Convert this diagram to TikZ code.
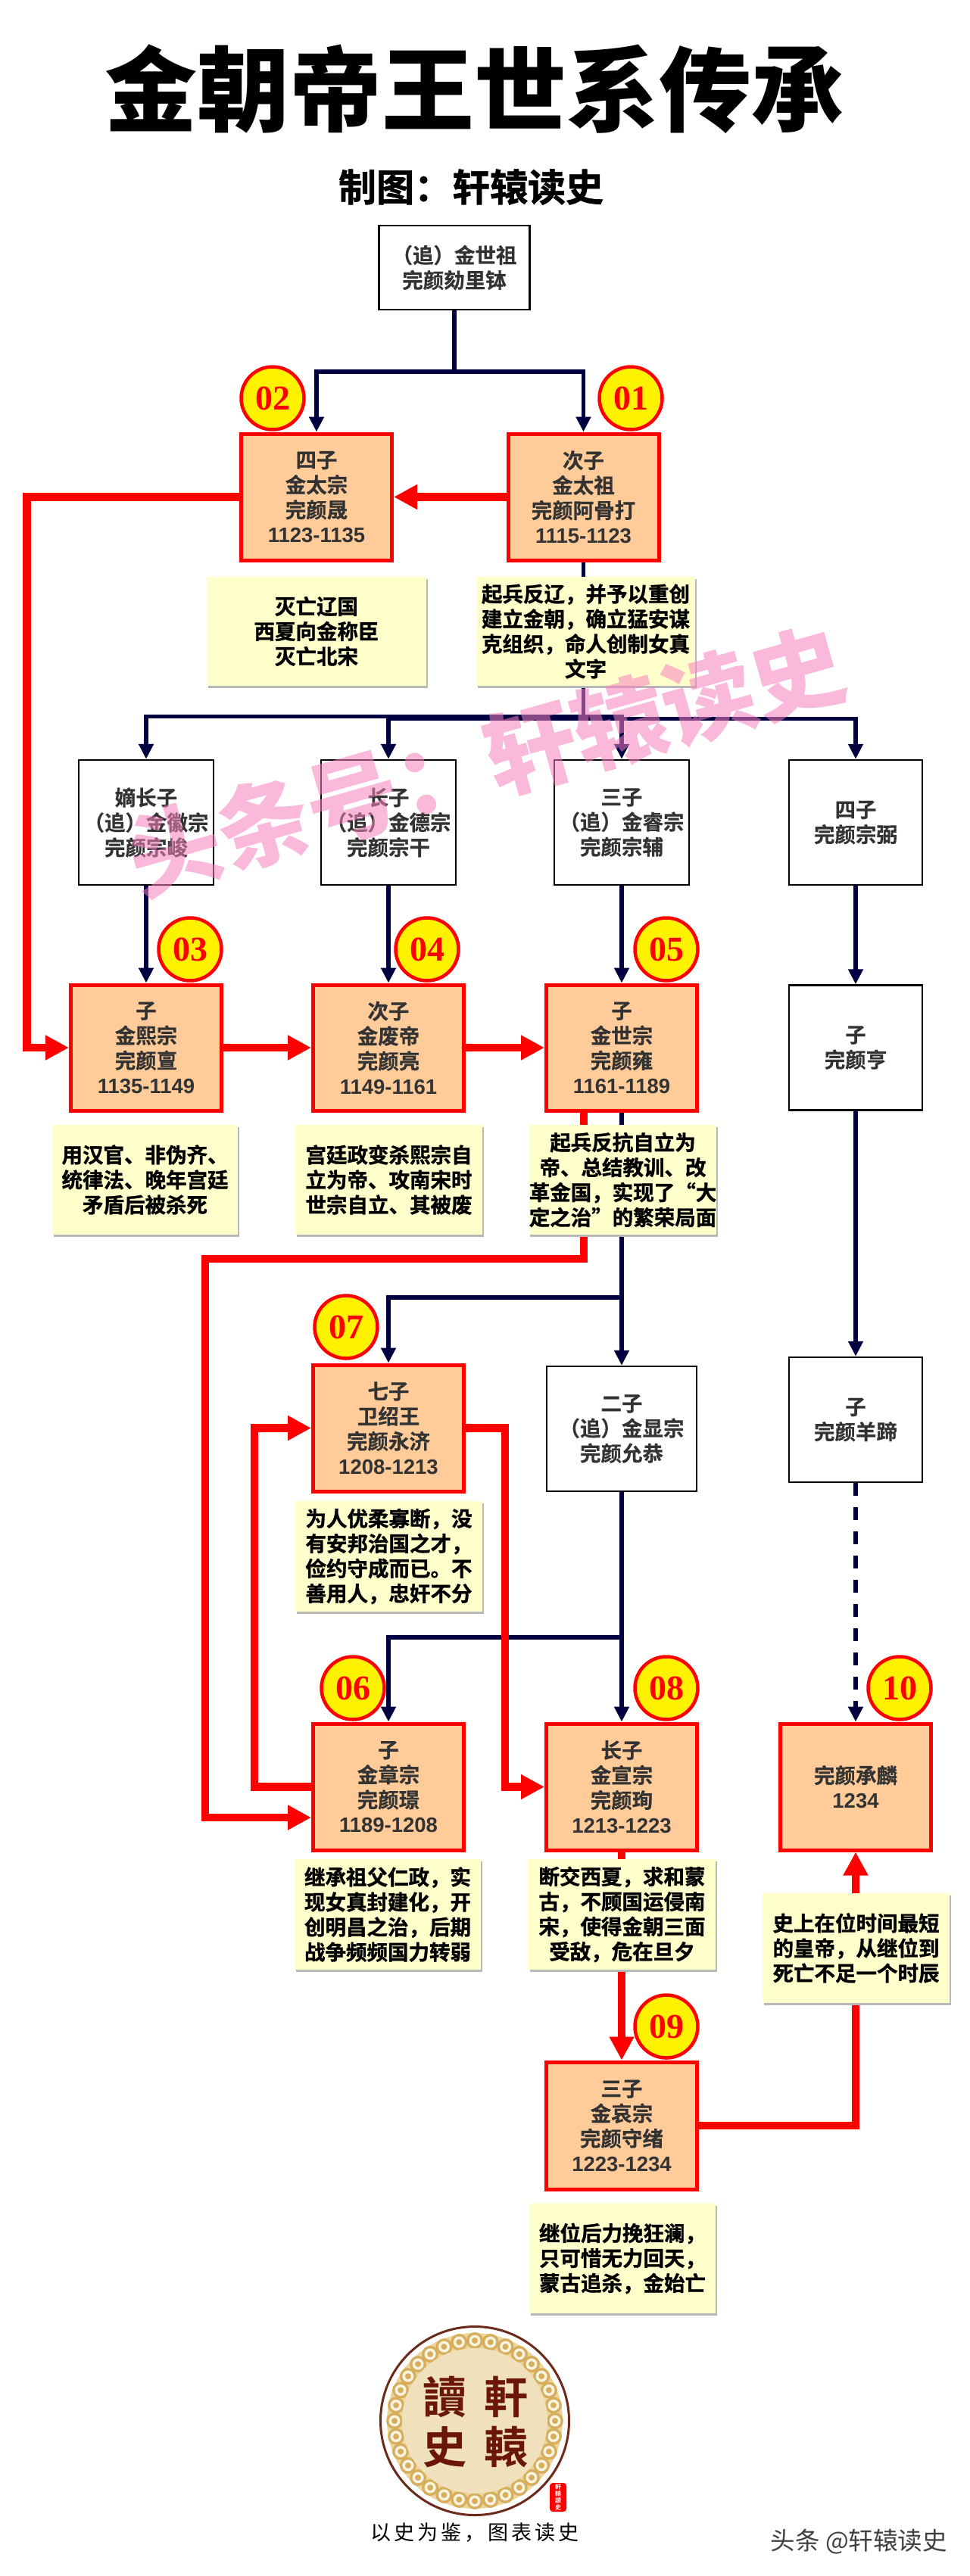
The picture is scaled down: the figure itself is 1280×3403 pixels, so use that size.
\documentclass[tikz,border=0pt]{standalone}
\usepackage{fontspec}
\usetikzlibrary{arrows.meta,shadows,calc}
\setmainfont{Noto Sans CJK SC}
\newfontfamily\cjkb[FakeBold=0.5]{Noto Sans CJK SC Bold}
\newfontfamily\cjkn[FakeBold=1.2]{Noto Sans CJK SC Bold}
\newfontfamily\cjkh{Noto Sans CJK SC Black}
\newfontfamily\cjkt{Noto Sans CJK TC Bold}
\newfontfamily\cjkr{Noto Sans CJK SC}
\newfontfamily\cjksp[LetterSpace=15]{Noto Sans CJK SC}
\newfontfamily\serifb{Liberation Serif Bold}
\newfontfamily\arialb{Liberation Sans Bold}
\definecolor{navyc}{HTML}{000040}
\definecolor{orangec}{HTML}{FFCC99}
\definecolor{notec}{HTML}{FFFFCC}
\definecolor{textc}{HTML}{333333}
\definecolor{wmk}{HTML}{F781BD}
\definecolor{ringbg}{HTML}{EBD6A0}
\definecolor{ringc}{HTML}{D6AE5C}
\definecolor{innerc}{HTML}{F1E0BC}
\definecolor{brownc}{HTML}{6B2A1A}
\definecolor{sealc}{HTML}{6A1608}
\pgfdeclarelayer{bg}
\pgfsetlayers{bg,main}
\newcommand{\yr}[1]{{\arialb #1}}
\tikzset{
  emp/.style={draw=red,line width=5pt,fill=orangec,inner sep=0pt,minimum width=199pt,
    align=center,text=textc,font=\cjkb\fontsize{27.5}{33}\selectfont},
  anc/.style={draw=black,line width=2.5pt,fill=white,inner sep=0pt,
    align=center,text=textc,font=\cjkb\fontsize{27.5}{33}\selectfont},
  notebox/.style={fill=notec,inner sep=0pt,align=center,text=black,
    font=\cjkn\fontsize{27.5}{33}\selectfont,
    general shadow={fill=black!28,shadow xshift=1.5pt,shadow yshift=-3pt}},
  badge/.style={circle,draw=red,line width=4.5pt,fill=yellow,inner sep=0pt,minimum size=83pt,
    text=red,font=\serifb\fontsize{46}{46}\selectfont},
  navyline/.style={draw=navyc,line width=5.5pt},
  navyarr/.style={navyline,-{Triangle[length=20pt,width=19pt]}},
  redline/.style={draw=red,line width=10.5pt},
  redarr/.style={redline,-{Triangle[length=31pt,width=31pt]}},
}
\begin{document}
\begin{tikzpicture}[x=1pt,y=-1pt]
\useasboundingbox (0,0) rectangle (1280,3403);
\begin{pgfonlayer}{bg}
\fill[white] (0,0) rectangle (1280,3403);
\end{pgfonlayer}

% titles
\node[text=black,inner sep=0pt,font=\cjkh\fontsize{122}{122}\selectfont] (title) at (626,118) {金朝帝王世系传承};
\node[text=black,inner sep=0pt,font=\cjkn\fontsize{50}{50}\selectfont] (subtitle) at (622,247) {制图：轩辕读史};

% ancestor boxes
\node[anc,minimum width=199pt,minimum height=111pt] (root) at (600,353.5) {（追）金世祖\\完颜劾里钵};
\node[anc,minimum width=178pt,minimum height=165pt] (w1) at (193,1086.5) {嫡长子\\（追）金徽宗\\完颜宗峻};
\node[anc,minimum width=178pt,minimum height=165pt] (w2) at (513,1086.5) {长子\\（追）金德宗\\完颜宗干};
\node[anc,minimum width=178pt,minimum height=165pt] (w3) at (821,1086.5) {三子\\（追）金睿宗\\完颜宗辅};
\node[anc,minimum width=176pt,minimum height=165pt] (w4) at (1130,1086.5) {四子\\完颜宗弼};
\node[anc,minimum width=176pt,minimum height=165pt] (w5) at (1130,1384) {子\\完颜亨};
\node[anc,minimum width=198pt,minimum height=165pt] (w6) at (821,1887.5) {二子\\（追）金显宗\\完颜允恭};
\node[anc,minimum width=176pt,minimum height=165pt] (w7) at (1130,1875.5) {子\\完颜羊蹄};

% emperor boxes
\node[emp,minimum height=167pt] (b01) at (770.5,656.5) {次子\\金太祖\\完颜阿骨打\\\yr{1115-1123}};
\node[emp,minimum height=167pt] (b02) at (418,656.5) {四子\\金太宗\\完颜晟\\\yr{1123-1135}};
\node[emp,minimum height=166pt] (b03) at (193,1384) {子\\金熙宗\\完颜亶\\\yr{1135-1149}};
\node[emp,minimum height=166pt] (b04) at (513,1384) {次子\\金废帝\\完颜亮\\\yr{1149-1161}};
\node[emp,minimum height=166pt] (b05) at (821,1384) {子\\金世宗\\完颜雍\\\yr{1161-1189}};
\node[emp,minimum height=167pt] (b07) at (513,1886.5) {七子\\卫绍王\\完颜永济\\\yr{1208-1213}};
\node[emp,minimum height=167pt] (b06) at (513,2360.5) {子\\金章宗\\完颜璟\\\yr{1189-1208}};
\node[emp,minimum height=167pt] (b08) at (821,2360.5) {长子\\金宣宗\\完颜珣\\\yr{1213-1223}};
\node[emp,minimum height=167pt] (b10) at (1130,2360.5) {完颜承麟\\\yr{1234}};
\node[emp,minimum height=168pt] (b09) at (821,2808) {三子\\金哀宗\\完颜守绪\\\yr{1223-1234}};

% badges
\node[badge] (c01) at (833,526) {01};
\node[badge] (c02) at (360,526) {02};
\node[badge] (c03) at (251,1254) {03};
\node[badge] (c04) at (564,1254) {04};
\node[badge] (c05) at (880,1254) {05};
\node[badge] (c07) at (457,1753) {07};
\node[badge] (c06) at (466,2230) {06};
\node[badge] (c08) at (880,2230) {08};
\node[badge] (c10) at (1188,2230) {10};
\node[badge] (c09) at (880,2677) {09};

% notes
\node[notebox,minimum width=290pt,minimum height=144pt] (n02) at (418,834) {灭亡辽国\\西夏向金称臣\\灭亡北宋};
\node[notebox,minimum width=289pt,minimum height=144pt] (n01) at (773.5,834) {起兵反辽，并予以重创\\建立金朝，确立猛安谋\\克组织，命人创制女真\\文字};
\node[notebox,minimum width=245pt,minimum height=145pt] (n03) at (191.5,1558.5) {用汉官、非伪齐、\\统律法、晚年宫廷\\矛盾后被杀死};
\node[notebox,minimum width=247pt,minimum height=145pt] (n04) at (513.5,1558.5) {宫廷政变杀熙宗自\\立为帝、攻南宋时\\世宗自立、其被废};
\node[notebox,minimum width=245pt,minimum height=145pt] (n05) at (822.5,1558.5) {起兵反抗自立为\\帝、总结教训、改\\革金国，实现了“大\\定之治”的繁荣局面};
\node[notebox,minimum width=247pt,minimum height=146pt] (n07) at (513.5,2056) {为人优柔寡断，没\\有安邦治国之才，\\俭约守成而已。不\\善用人，忠奸不分};
\node[notebox,minimum width=246pt,minimum height=146pt] (n06) at (512,2529) {继承祖父仁政，实\\现女真封建化，开\\创明昌之治，后期\\战争频频国力转弱};
\node[notebox,minimum width=247pt,minimum height=146pt] (n08) at (821.5,2529) {断交西夏，求和蒙\\古，不顾国运侵南\\宋，使得金朝三面\\受敌，危在旦夕};
\node[notebox,minimum width=247pt,minimum height=145pt] (n10) at (1130.5,2573.5) {史上在位时间最短\\的皇帝，从继位到\\死亡不足一个时辰};
\node[notebox,minimum width=246pt,minimum height=145pt] (n09) at (822,2983.5) {继位后力挽狂澜，\\只可惜无力回天，\\蒙古追杀，金始亡};

% junctions
\coordinate (j1) at (600,491);
\coordinate (j2) at (770.5,946.5);
\coordinate (j2b) at (770.5,949.5);
\coordinate (j3) at (821,1714);
\coordinate (j4) at (821,2163);
\coordinate (rl) at (35.5,656.5);
\coordinate (r5) at (771,1663);
\coordinate (r5b) at (271,1663);
\coordinate (r5c) at (271,2401);
\coordinate (r6) at (336,2360.5);
\coordinate (r7) at (667,1886.5);

\begin{pgfonlayer}{bg}
\draw[navyline] (root.south) -- (j1);
\draw[navyarr] (j1) -| (b02.north);
\draw[navyarr] (j1) -| (b01.north);
\draw[navyline] (b01.south) -- (j2b);
\draw[navyarr] (j2) -| (w1.north);
\draw[navyarr] (j2b) -| (w2.north);
\draw[navyarr] (j2) -| (w3.north);
\draw[navyarr] (j2b) -| (w4.north);
\draw[navyarr] (w1.south) -- (b03.north);
\draw[navyarr] (w2.south) -- (b04.north);
\draw[navyarr] (w3.south) -- (b05.north);
\draw[navyarr] (w4.south) -- (w5.north);
\draw[navyarr] (w5.south) -- (w7.north);
\draw[navyarr] (b05.south) -- (w6.north);
\draw[navyarr] (j3) -| (b07.north);
\draw[navyarr] (w6.south) -- (b08.north);
\draw[navyarr] (j4) -| (b06.north);
\draw[navyarr,dash pattern=on 17pt off 15pt] (w7.south) -- (b10.north);

\draw[redarr] (b01.west) -- (b02.east);
\draw[redarr] (b02.west) -- (rl) |- (b03.west);
\draw[redarr] (b03.east) -- (b04.west);
\draw[redarr] (b04.east) -- (b05.west);
\draw[redarr] (r5 |- b05.south) -- (r5) -- (r5b) -- (r5c) -- (b06.west |- r5c);
\draw[redarr] (b06.west) -- (r6) |- (b07.west);
\draw[redarr] (b07.east) -- (r7) |- (b08.west);
\draw[redarr] (b08.south) -- (b09.north);
\draw[redarr] (b09.east) -| (b10.south);
\end{pgfonlayer}

% logo
\node[circle,draw=brownc,line width=3pt,fill=white,inner sep=0pt,minimum size=249pt] (logo) at (627,3198) {};
\fill[ringbg] (logo.center) circle[radius=116];
\foreach \a in {0,11.25,...,349} {
  \fill[ringc] ($(logo.center)+(\a:106)$) circle[radius=11];
  \fill[white!70!ringbg] ($(logo.center)+(\a:106)$) circle[radius=7.5];
  \fill[ringc] ($(logo.center)+(\a:106)$) circle[radius=4];
}
\fill[innerc] (logo.center) circle[radius=96];
\node[text=sealc,inner sep=0pt,font=\cjkt\fontsize{58}{58}\selectfont] (l1) at (587,3166) {讀};
\node[text=sealc,inner sep=0pt,font=\cjkt\fontsize{58}{58}\selectfont] (l2) at (668,3166) {軒};
\node[text=sealc,inner sep=0pt,font=\cjkt\fontsize{58}{58}\selectfont] (l3) at (587,3233) {史};
\node[text=sealc,inner sep=0pt,font=\cjkt\fontsize{58}{58}\selectfont] (l4) at (668,3233) {轅};
\node[fill=red,rounded corners=4pt,minimum width=22pt,minimum height=38pt,inner sep=0pt,align=center,text=white,font=\cjkt\fontsize{8}{9}\selectfont] (seal) at (737,3299) {軒\\轅\\讀\\史};
\node[text=black,inner sep=0pt,font=\cjksp\fontsize{27}{27}\selectfont] (slogan) at (627,3346) {以史为鉴，图表读史};
\node[text=black!75,inner sep=0pt,font=\cjkr\fontsize{32.5}{32.5}\selectfont,anchor=east] (brand) at (1251,3358) {头条 @轩辕读史};

% watermark
\node[text=wmk,text opacity=.55,inner sep=0pt,rotate=15.8,font=\cjkh\fontsize{122}{122}\selectfont] (wm) at (642,1005) {头条号：轩辕读史};
\end{tikzpicture}
\end{document}
